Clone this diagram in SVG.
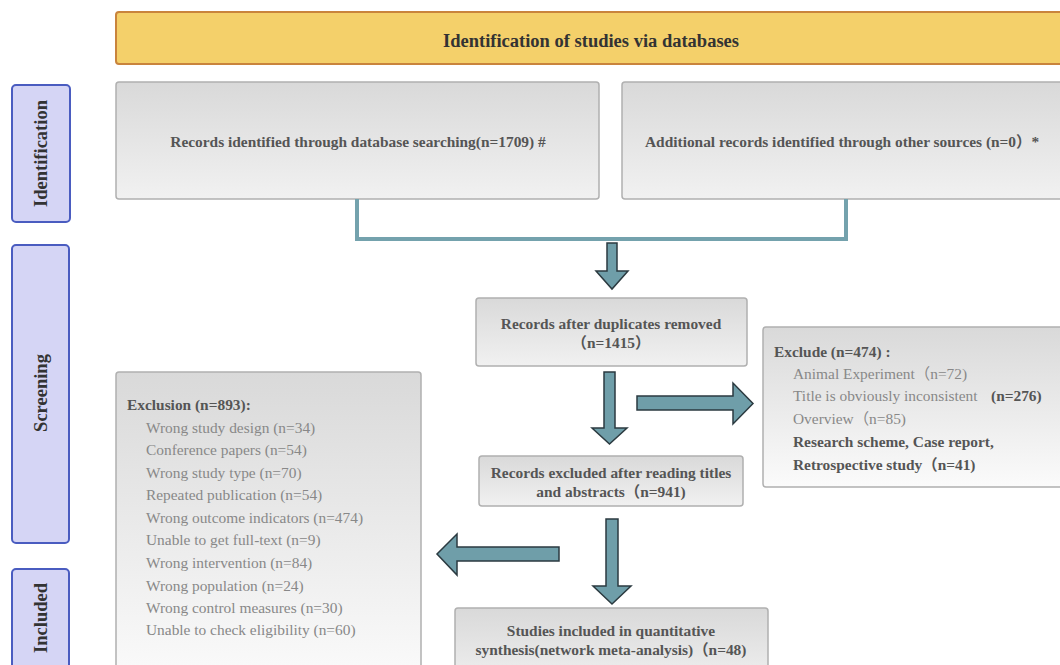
<svg xmlns="http://www.w3.org/2000/svg" width="1060" height="665" viewBox="0 0 1060 665">
<defs>
<linearGradient id="g" x1="0" y1="0" x2="0" y2="1"><stop offset="0" stop-color="#d9d9d9"/><stop offset="1" stop-color="#f1f1f1"/></linearGradient>
<linearGradient id="g2" x1="0" y1="0" x2="0" y2="1"><stop offset="0" stop-color="#d9d9d9"/><stop offset="1" stop-color="#fbfbfb"/></linearGradient>
<style>
text{font-family:"Liberation Serif","Noto Sans CJK SC",serif}
.box{fill:url(#g);stroke:#b0b0b0;stroke-width:1.5}
.box2{fill:url(#g2);stroke:#b0b0b0;stroke-width:1.5}
.side{fill:#d5d5f5;stroke:#4a5cc0;stroke-width:2}
.sl{font-size:18.5px;font-weight:bold;fill:#333;text-anchor:middle}
.bt{font-size:15.4px;font-weight:bold;fill:#555;text-anchor:middle}
.h{font-size:15.4px;font-weight:bold;fill:#555}
.it{font-size:15.4px;fill:#888}
.ib{font-size:15.4px;font-weight:bold;fill:#555}
.arr{fill:#6f9ea9;stroke:#2b3a40;stroke-width:1.5;stroke-linejoin:miter}
.con{fill:none;stroke:#74a2ad;stroke-width:4}
</style>
</defs>
<rect width="1060" height="665" fill="#fff"/>
<g id="banner">
<rect x="116" y="12" width="960" height="52" rx="3" fill="#f4d06a" stroke="#c9843c" stroke-width="2"/>
<text x="591" y="46.5" style="font-size:18.5px;font-weight:bold;fill:#333;text-anchor:middle">Identification of studies via databases</text>
</g>
<g id="side-identification">
<rect class="side" x="12" y="85" width="58" height="137" rx="4"/>
<text class="sl" transform="translate(47,153.5) rotate(-90)">Identification</text>
</g>
<g id="side-screening">
<rect class="side" x="12" y="245" width="57" height="298" rx="4"/>
<text class="sl" transform="translate(47,393) rotate(-90)">Screening</text>
</g>
<g id="side-included">
<rect class="side" x="12" y="569" width="57" height="120" rx="4"/>
<text class="sl" transform="translate(47,618) rotate(-90)">Included</text>
</g>
<g id="box-db">
<rect class="box" x="116" y="82" width="483" height="117" rx="3"/>
<text class="bt" x="358" y="147">Records identified through database searching(n=1709) #</text>
</g>
<g id="box-other">
<rect class="box" x="622" y="82" width="450" height="117" rx="3"/>
<text class="h" x="645" y="147">Additional records identified through other sources (n=0）*</text>
</g>
<g id="box-dup">
<rect class="box" x="476" y="298" width="271" height="68" rx="3"/>
<text class="bt" x="611" y="329">Records after duplicates removed</text>
<text class="bt" x="611" y="348">（n=1415）</text>
</g>
<g id="box-excl-right">
<rect class="box2" x="763" y="327" width="310" height="160" rx="3"/>
<text class="h" x="774" y="357">Exclude (n=474) :</text>
<text class="it" x="793" y="379">Animal Experiment（n=72)</text>
<text class="it" x="793" y="401">Title is obviously inconsistent</text>
<text class="ib" x="991" y="401">(n=276)</text>
<text class="it" x="793" y="424">Overview（n=85)</text>
<text class="ib" x="793" y="447">Research scheme, Case report,</text>
<text class="ib" x="793" y="470">Retrospective study（n=41)</text>
</g>
<g id="box-titles">
<rect class="box" x="479" y="456" width="264" height="50" rx="3"/>
<text class="bt" x="611" y="478">Records excluded after reading titles</text>
<text class="bt" x="611" y="497">and abstracts（n=941)</text>
</g>
<g id="box-excl-left">
<rect class="box2" x="116" y="372" width="305" height="310" rx="3"/>
<text class="h" x="127" y="410">Exclusion (n=893):</text>
<text class="it" x="146" y="433">Wrong study design (n=34)</text>
<text class="it" x="146" y="455">Conference papers (n=54)</text>
<text class="it" x="146" y="478">Wrong study type  (n=70)</text>
<text class="it" x="146" y="500">Repeated publication (n=54)</text>
<text class="it" x="146" y="523">Wrong outcome indicators (n=474)</text>
<text class="it" x="146" y="545">Unable to get full-text (n=9)</text>
<text class="it" x="146" y="568">Wrong intervention  (n=84)</text>
<text class="it" x="146" y="591">Wrong population (n=24)</text>
<text class="it" x="146" y="613">Wrong control measures (n=30)</text>
<text class="it" x="146" y="635">Unable to check eligibility (n=60)</text>
</g>
<g id="box-included">
<rect class="box" x="455" y="608" width="313" height="80" rx="3"/>
<text class="bt" x="611" y="636">Studies included in quantitative</text>
<text class="bt" x="611" y="655">synthesis(network meta-analysis)（n=48)</text>
</g>
<g id="connectors">
<path class="con" d="M357 199 V239 H846 V199"/>
<path class="arr" d="M607 243 H617 V271 H628 L612 289 L596 271 H607 Z"/>
<path class="arr" d="M604 372 H615 V428 H627 L609.5 444 L592 428 H604 Z"/>
<path class="arr" d="M637 396 H733 V383 L753 403.5 L733 424 V410 H637 Z"/>
<path class="arr" d="M606 519 H618 V586 H631 L612 604 L593 586 H606 Z"/>
<path class="arr" d="M559 547 H457 V534 L437 554 L457 575 V561 H559 Z"/>
</g>
</svg>
